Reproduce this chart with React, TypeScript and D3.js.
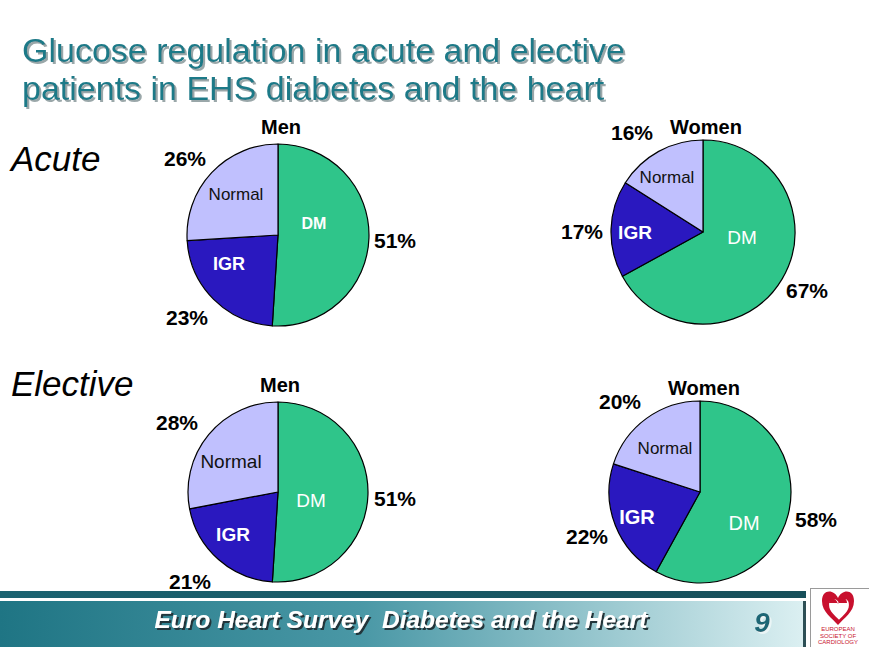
import React from "react";
import * as d3 from "d3";

const categories = ["DM", "IGR", "Normal"];
const panelNames = ["Acute Men", "Acute Women", "Elective Men", "Elective Women"];
const panelTitles = ["Men", "Women", "Men", "Women"];
const acuteMen = [51, 23, 26];
const acuteWomen = [67, 17, 16];
const electiveMen = [51, 21, 28];
const electiveWomen = [58, 22, 20];
const seriesValues = [acuteMen, acuteWomen, electiveMen, electiveWomen];
const rowLabels = ["Acute", "Elective"];
const titleLines = ["Glucose regulation in acute and elective", "patients in EHS diabetes and the heart"];
const footerText = "Euro Heart Survey  Diabetes and the Heart";
const pageNumber = "9";

const colors = d3.scaleOrdinal<string, string>().domain(categories).range(["#2fc58a", "#2a18bf", "#c0c0fe"]);
const FONT = "'Liberation Sans', Arial, Helvetica, sans-serif";

// layout: centre, radius, label offsets (relative to centre)
const layout = [
  {
    cx: 278, cy: 235, r: 91,
    title: [3, -108],
    inner: [{ d: [36, -12], s: 16, w: 700 }, { d: [-49, 29], s: 18, w: 700 }, { d: [-42, -41], s: 17, w: 400, c: "#111" }],
    outer: [[117, 5], [-91, 82], [-93, -77]],
  },
  {
    cx: 703, cy: 232, r: 92,
    title: [3, -105],
    inner: [{ d: [39, 5], s: 19, w: 400 }, { d: [-68, 0], s: 19, w: 700 }, { d: [-36, -55], s: 17, w: 400, c: "#111" }],
    outer: [[104, 58], [-121, -1], [-71, -100]],
  },
  {
    cx: 278, cy: 492, r: 90,
    title: [2, -107],
    inner: [{ d: [33, 8], s: 19, w: 400 }, { d: [-45, 42], s: 19, w: 700 }, { d: [-47, -31], s: 19, w: 400, c: "#111" }],
    outer: [[117, 6], [-88, 89], [-101, -70]],
  },
  {
    cx: 700, cy: 492, r: 91,
    title: [4, -104],
    inner: [{ d: [44, 31], s: 20, w: 400 }, { d: [-63, 25], s: 20, w: 700 }, { d: [-35, -44], s: 17, w: 400, c: "#111" }],
    outer: [[116, 27], [-113, 44], [-80, -91]],
  },
];

const pieGen = d3.pie<number>().sort(null).value((d) => d);

function Pie({ idx }: { idx: number }) {
  const L = layout[idx];
  const arcs = pieGen(seriesValues[idx]);
  const arcGen = d3.arc<d3.PieArcDatum<number>>().innerRadius(0).outerRadius(L.r);
  return (
    <g transform={`translate(${L.cx},${L.cy})`}>
      {arcs.map((a, i) => (
        <path key={i} d={arcGen(a) || ""} fill={colors(categories[i])} stroke="#000" strokeWidth={1.2} strokeLinejoin="round" />
      ))}
      {arcs.map((a, i) => {
        const lab = L.inner[i];
        return (
          <text key={"in" + i} x={lab.d[0]} y={lab.d[1]} textAnchor="middle" dominantBaseline="central"
            fontFamily={FONT} fontSize={lab.s} fontWeight={lab.w} fill={lab.c || "#fff"}>
            {categories[i]}
          </text>
        );
      })}
      {arcs.map((a, i) => (
        <text key={"out" + i} x={L.outer[i][0]} y={L.outer[i][1]} textAnchor="middle" dominantBaseline="central"
          fontFamily={FONT} fontSize={21} fontWeight={700} fill="#000">
          {`${a.data}%`}
        </text>
      ))}
      <text x={L.title[0]} y={L.title[1]} textAnchor="middle" dominantBaseline="central"
        fontFamily={FONT} fontSize={20} fontWeight={700} fill="#000">
        {panelTitles[idx]}
      </text>
    </g>
  );
}

function Logo() {
  const heart = "M0,-8 C-4,-17 -16,-17 -16,-5 C-16,6 -6,12 0,19 C6,12 16,6 16,-5 C16,-17 4,-17 0,-8 Z";
  return (
    <g>
      <rect x={810.5} y={588.5} width={60} height={60} fill="#fff" stroke="#9a9a9a" strokeWidth={1} />
      <g transform="translate(838,606)">
        <path d={heart} fill="#c8102e" />
        <path d={heart} fill="#fff" transform="translate(1,2) scale(0.62)" />
        <path d="M-9,-4 C-9,-11 -2,-10 0,-3 C2,-10 9,-11 9,-4" fill="#c8102e" transform="translate(0,1)" />
      </g>
      {["EUROPEAN", "SOCIETY OF", "CARDIOLOGY"].map((t, i) => (
        <text key={t} x={838} y={631 + i * 6.5} textAnchor="middle" fontFamily={FONT} fontSize={6} fill="#c8102e">{t}</text>
      ))}
    </g>
  );
}

export default function App() {
  return (
    <svg width={869} height={647} style={{ position: "absolute", left: 0, top: 0, background: "#fff" }}>
      <defs>
        <linearGradient id="band" x1="0" x2="1" y1="0" y2="0">
          <stop offset="0" stopColor="#1f7584" />
          <stop offset="0.45" stopColor="#4a98a6" />
          <stop offset="1" stopColor="#dcf0f2" />
        </linearGradient>
        <linearGradient id="stripe" x1="0" x2="1" y1="0" y2="0">
          <stop offset="0" stopColor="#1b6371" />
          <stop offset="1" stopColor="#174f5a" />
        </linearGradient>
        <filter id="shadowGrey" x="-5%" y="-20%" width="110%" height="150%">
          <feFlood floodColor="#9aa7a9" result="c" />
          <feComposite in="c" in2="SourceAlpha" operator="in" result="s" />
          <feOffset in="s" dx={2} dy={2} result="o" />
          <feMerge><feMergeNode in="o" /><feMergeNode in="SourceGraphic" /></feMerge>
        </filter>
        <filter id="shadowDark" x="-5%" y="-20%" width="110%" height="150%">
          <feFlood floodColor="#23363a" result="c" />
          <feComposite in="c" in2="SourceAlpha" operator="in" result="s" />
          <feOffset in="s" dx={2} dy={2} result="o" />
          <feMerge><feMergeNode in="o" /><feMergeNode in="SourceGraphic" /></feMerge>
        </filter>
        <filter id="shadowLight" x="-50%" y="-20%" width="200%" height="150%">
          <feFlood floodColor="#eaf5f6" result="c" />
          <feComposite in="c" in2="SourceAlpha" operator="in" result="s" />
          <feOffset in="s" dx={2} dy={2} result="o" />
          <feMerge><feMergeNode in="o" /><feMergeNode in="SourceGraphic" /></feMerge>
        </filter>
      </defs>
      <rect x={0} y={0} width={869} height={647} fill="#fff" />
      {titleLines.map((t, i) => (
        <text key={t} x={22} y={62 + i * 38} fontFamily={FONT} fontSize={34} fill="#1f7a88" filter="url(#shadowGrey)">{t}</text>
      ))}
      {rowLabels.map((t, i) => (
        <text key={t} x={11} y={171 + i * 225} fontFamily={FONT} fontSize={35} fontStyle="italic" fill="#000">{t}</text>
      ))}
      {panelNames.map((n, i) => (
        <Pie key={n} idx={i} />
      ))}
      {/* footer */}
      <rect x={0} y={591} width={806} height={7} fill="url(#stripe)" />
      <rect x={0} y={601} width={806} height={46} fill="url(#band)" />
      <rect x={803} y={601} width={3} height={46} fill="#2c4f55" />
      <text x={401} y={628} textAnchor="middle" fontFamily={FONT} fontSize={24} fontWeight={700} fontStyle="italic"
        fill="#fff" textLength={493} lengthAdjust="spacingAndGlyphs" style={{ whiteSpace: "pre" }}
        filter="url(#shadowDark)">{footerText}</text>
      <text x={762} y={632} textAnchor="middle" fontFamily={FONT} fontSize={28} fontWeight={700} fontStyle="italic"
        fill="#1f6675" filter="url(#shadowLight)">{pageNumber}</text>
      <Logo />
    </svg>
  );
}
